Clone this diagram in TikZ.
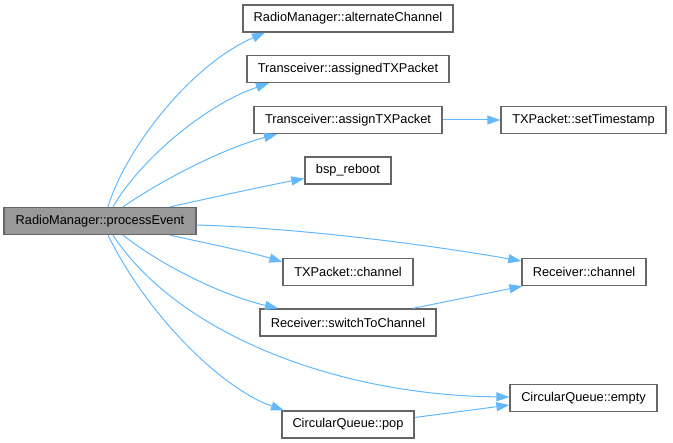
\documentclass[tikz,border=0pt]{standalone}
\usepackage{fontspec}
\setmainfont{Liberation Sans}
\usetikzlibrary{arrows.meta}
\definecolor{edgeblue}{HTML}{63B8FF}
\definecolor{boxgrey}{HTML}{666666}
\definecolor{rootfill}{HTML}{999999}
\tikzset{
  fn/.style    = {draw=boxgrey, line width=1.3pt, fill=white, align=center,
                  minimum height=27pt, inner sep=0pt, font=\fontsize{12.8}{15}\selectfont},
  root/.style  = {fn, fill=rootfill},
  call/.style  = {-{Triangle[length=13pt,width=9pt,fill=edgeblue]}, draw=edgeblue,
                  line width=1pt},
}
\begin{document}
\begin{tikzpicture}[x=1pt,y=-1pt]
  \useasboundingbox (0,0) rectangle (673,443);
  % caller
  \node[root, minimum width=192pt] (pe)  at (100,221)   {RadioManager::processEvent};
  % callees
  \node[fn, minimum width=210pt]   (alt) at (348,18.5)  {RadioManager::alternateChannel};
  \node[fn, minimum width=202pt]   (asd) at (348,69)    {Transceiver::assignedTXPacket};
  \node[fn, minimum width=188pt]   (asg) at (348,120)   {Transceiver::assignTXPacket};
  \node[fn, minimum width=165pt]   (ts)  at (583.5,120) {TXPacket::setTimestamp};
  \node[fn, minimum width=86pt]    (bsp) at (348,170.5) {bsp\_reboot};
  \node[fn, minimum width=130pt]   (txc) at (348,272)   {TXPacket::channel};
  \node[fn, minimum width=124pt]   (rxc) at (584,272)   {Receiver::channel};
  \node[fn, minimum width=176pt]   (sw)  at (348,322.5) {Receiver::switchToChannel};
  \node[fn, minimum width=147pt]   (emp) at (583.5,398) {CircularQueue::empty};
  \node[fn, minimum width=132pt]   (pop) at (348,424.5) {CircularQueue::pop};
  % calls
  \draw[call] ([xshift=8pt]pe.north) .. controls (125,150) and (190,65) .. ([xshift=-83pt]alt.south);
  \draw[call] ([xshift=13pt]pe.north) .. controls (140,160) and (205,105) .. ([xshift=-79pt]asd.south);
  \draw[call] ([xshift=23pt]pe.north) .. controls (165,178) and (225,148) .. ([xshift=-71pt]asg.south);
  \draw[call] ([xshift=70pt]pe.north) .. controls (215,197) and (260,187) .. ([yshift=-8pt]bsp.west);
  \draw[call] ([yshift=-4pt]pe.east) .. controls (300,228) and (430,245) .. ([yshift=11pt]rxc.west);
  \draw[call] ([xshift=70pt]pe.south) .. controls (205,243) and (250,252) .. ([yshift=10pt]txc.west);
  \draw[call] ([xshift=23pt]pe.south) .. controls (165,268) and (225,296) .. ([xshift=-70pt]sw.north);
  \draw[call] ([xshift=13pt]pe.south) .. controls (175,330) and (330,395) .. ([yshift=1pt]emp.west);
  \draw[call] ([xshift=8pt]pe.south) .. controls (150,320) and (225,390) .. ([xshift=-64pt]pop.north);
  \draw[call] (asg) -- (ts);
  \draw[call] ([xshift=65pt]sw.north) -- ([xshift=1pt]rxc.south west);
  \draw[call] ([yshift=7pt]pop.east) -- ([yshift=-7pt]emp.west);
\end{tikzpicture}
\end{document}
